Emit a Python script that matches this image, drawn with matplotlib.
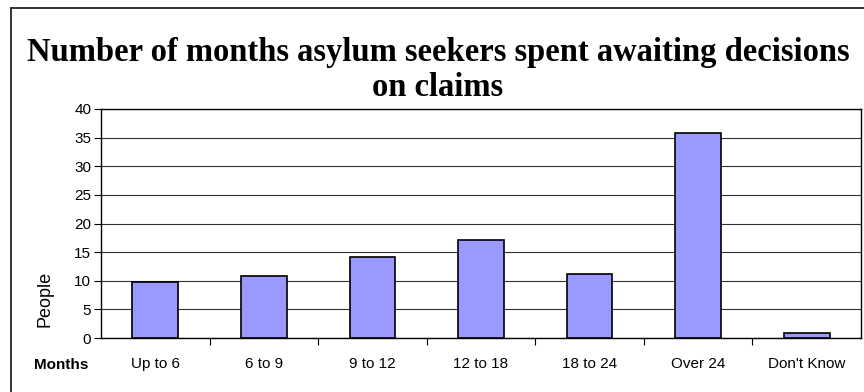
import matplotlib
matplotlib.use("Agg")
import matplotlib.pyplot as plt
from matplotlib.lines import Line2D

categories = ["Up to 6", "6 to 9", "9 to 12", "12 to 18", "18 to 24", "Over 24", "Don't Know"]
people = [9.8, 10.8, 14.1, 17.2, 11.2, 35.8, 0.9]
y_ticks = [0, 5, 10, 15, 20, 25, 30, 35, 40]

W, H = 864, 392
fig = plt.figure(figsize=(W / 100, H / 100), dpi=100)
fig.patch.set_facecolor("white")

sans = ["Liberation Sans", "DejaVu Sans"]
serif = ["Liberation Serif", "DejaVu Serif"]

# outer chart frame (open on the right and bottom edges)
fig.add_artist(Line2D([11 / W, 11 / W], [1 - 8 / H, 0], transform=fig.transFigure,
                      color="#333333", lw=1.4))
fig.add_artist(Line2D([11 / W, 1], [1 - 8 / H, 1 - 8 / H], transform=fig.transFigure,
                      color="#333333", lw=1.4))

ax = fig.add_axes([101 / W, 1 - 338 / H, (861 - 101) / W, (338 - 109) / H])
x = list(range(len(categories)))
ax.bar(x, people, width=0.42, color="#9999FF", edgecolor="black", linewidth=1.2, zorder=3)

ax.set_xlim(-0.5, len(categories) - 0.5)
ax.set_ylim(0, 40)
ax.set_yticks(y_ticks)
ax.set_yticklabels([str(v) for v in y_ticks], fontfamily=sans, fontsize=11)
ax.yaxis.grid(True, color="#333333", lw=0.8, zorder=0)
ax.set_axisbelow(True)

# category labels centred under bars, ticks between categories
ax.set_xticks(x)
ax.set_xticklabels(categories, fontfamily=sans, fontsize=11)
ax.tick_params(axis="x", length=0, pad=14)
ax.set_xticks([i + 0.5 for i in x[:-1]], minor=True)
ax.tick_params(axis="x", which="minor", length=5, width=0.8, direction="out")
ax.tick_params(axis="y", length=5, width=0.8, direction="out", pad=2)

for s in ax.spines.values():
    s.set_color("black")
    s.set_linewidth(1.0)

fig.text(45 / W, 1 - 299 / H, "People", rotation=90, ha="center", va="center",
         fontfamily=sans, fontsize=13)
fig.text(61 / W, 1 - 365 / H, "Months", ha="center", va="center",
         fontfamily=sans, fontsize=11, fontweight="bold")

fig.text(438 / W, 1 - 61 / H, "Number of months asylum seekers spent awaiting decisions",
         ha="center", va="baseline", fontfamily=serif, fontsize=23.5, fontweight="bold")
fig.text(438 / W, 1 - 96 / H, "on claims",
         ha="center", va="baseline", fontfamily=serif, fontsize=23.5, fontweight="bold")

fig.savefig("out.png", dpi=100, facecolor="white")
